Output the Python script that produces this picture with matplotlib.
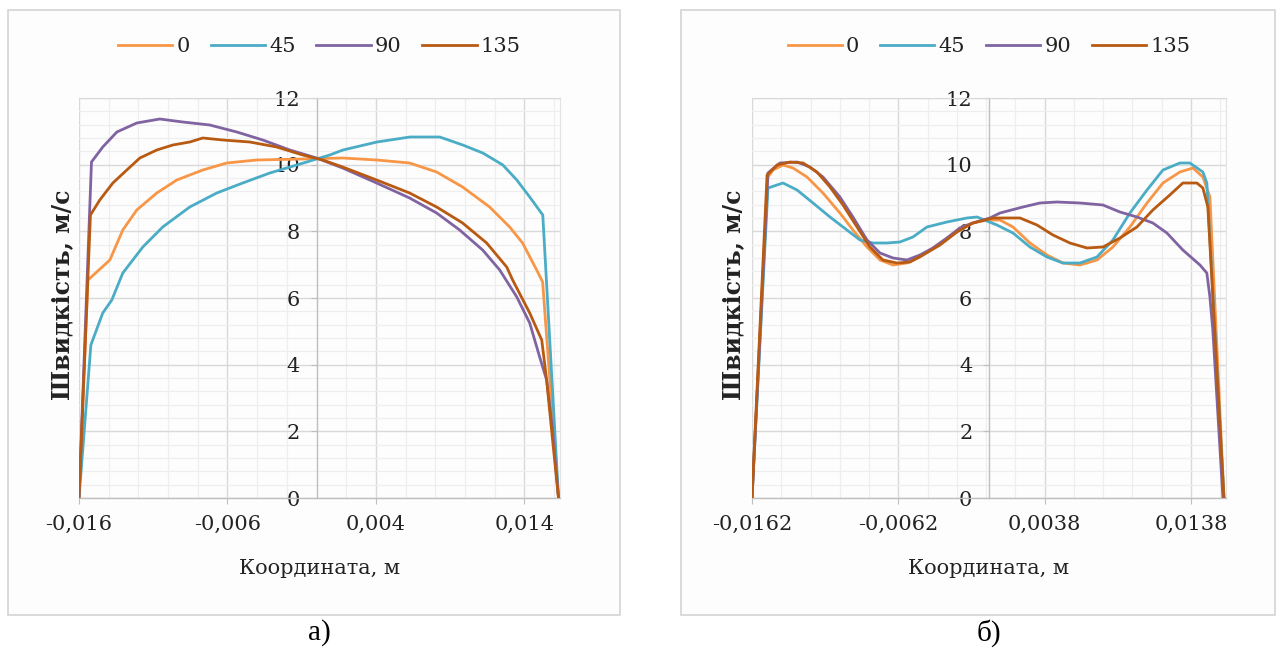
import numpy as np
import matplotlib
matplotlib.use("Agg")
import matplotlib.pyplot as plt
from matplotlib.patches import Rectangle
from matplotlib.ticker import FixedLocator, FixedFormatter

plt.rcParams['font.family'] = ['DejaVu Serif', 'Liberation Serif']

series_names = ['0', '45', '90', '135']
colors = ['#f79646', '#4bacc6', '#8064a2', '#b85a12']

# ---- панель а) ----
a_x0 = [-0.016, -0.0154, -0.01392, -0.01305, -0.01211, -0.01076, -0.00941, -0.00766, -0.00605,
        -0.00403, -0.00093, 0.00176, 0.00405, 0.00627, 0.00809, 0.00984, 0.01166, 0.01301,
        0.01388, 0.01483, 0.01523, 0.0163]
a_v0 = [0, 6.54, 7.14, 8.04, 8.64, 9.15, 9.54, 9.84, 10.05,
        10.14, 10.17, 10.2, 10.14, 10.05, 9.78, 9.33, 8.73, 8.13,
        7.65, 6.84, 6.48, 0]

a_x45 = [-0.016, -0.0152, -0.0144, -0.01379, -0.01305, -0.0117, -0.01036, -0.00854, -0.00672,
         -0.00497, -0.00315, -0.00133, 0.00089, 0.00178, 0.00407, 0.00629, 0.0083, 0.00985,
         0.0112, 0.01255, 0.01349, 0.01436, 0.01524, 0.0163]
a_v45 = [0, 4.59, 5.55, 5.94, 6.75, 7.53, 8.13, 8.73, 9.15,
         9.45, 9.75, 9.99, 10.29, 10.44, 10.68, 10.83, 10.83, 10.59,
         10.35, 9.99, 9.54, 9.03, 8.49, 0]

a_x90 = [-0.016, -0.01516, -0.0144, -0.01345, -0.01211, -0.01056, -0.00901, -0.00719, -0.00537,
         -0.00362, -0.0018, 0.0, 0.00176, 0.00405, 0.00627, 0.00809, 0.00964, 0.01119,
         0.01234, 0.01349, 0.01436, 0.01503, 0.0155, 0.0159, 0.0163]
a_v90 = [0, 10.08, 10.53, 10.98, 11.25, 11.37, 11.28, 11.19, 10.98,
         10.74, 10.44, 10.2, 9.9, 9.45, 9.0, 8.55, 8.04, 7.44,
         6.84, 6.03, 5.25, 4.23, 3.54, 2.04, 0]

a_x135 = [-0.016, -0.01523, -0.0146, -0.01372, -0.01278, -0.0119, -0.01076, -0.00968, -0.00854,
          -0.00766, -0.00632, -0.0045, -0.00268, -0.00093, 0.00042, 0.00176, 0.00405, 0.00627,
          0.00809, 0.00984, 0.01146, 0.01281, 0.01321, 0.01436, 0.01517, 0.0155, 0.0159, 0.0163]
a_v135 = [0, 8.49, 8.94, 9.45, 9.84, 10.2, 10.44, 10.59, 10.68,
          10.8, 10.74, 10.68, 10.53, 10.29, 10.14, 9.93, 9.54, 9.15,
          8.73, 8.25, 7.65, 6.93, 6.54, 5.55, 4.74, 3.54, 1.74, 0]

# ---- панель б) ----
b_x0 = [-0.0162, -0.01511, -0.01476, -0.01408, -0.0134, -0.01244, -0.01135, -0.01019, -0.0093,
        -0.00834, -0.00745, -0.00656, -0.00561, -0.00472, -0.00383, -0.00287, -0.00199, -0.0011,
        -0.00014, 0.00075, 0.00164, 0.0028, 0.00396, 0.00505, 0.00622, 0.00738, 0.00847,
        0.00963, 0.0108, 0.01189, 0.01305, 0.01394, 0.01462, 0.0151, 0.01606]
b_v0 = [0, 9.63, 9.84, 9.99, 9.9, 9.63, 9.15, 8.55, 8.04,
        7.53, 7.14, 6.99, 7.05, 7.23, 7.5, 7.8, 8.1, 8.25,
        8.34, 8.34, 8.13, 7.65, 7.29, 7.05, 6.99, 7.14, 7.53,
        8.13, 8.85, 9.45, 9.78, 9.9, 9.63, 9.03, 0]

b_x45 = [-0.0162, -0.01511, -0.01408, -0.01312, -0.01203, -0.01087, -0.00971, -0.00882, -0.00793,
         -0.00697, -0.00609, -0.0052, -0.00424, -0.00287, -0.00151, -0.00082, 0.00054, 0.00164,
         0.0028, 0.00396, 0.00505, 0.00622, 0.00738, 0.00847, 0.00963, 0.0108, 0.01189,
         0.01305, 0.01373, 0.01462, 0.01489, 0.01606]
b_v45 = [0, 9.3, 9.45, 9.24, 8.85, 8.43, 8.04, 7.74, 7.65,
         7.65, 7.68, 7.83, 8.13, 8.28, 8.4, 8.43, 8.19, 7.95,
         7.53, 7.23, 7.05, 7.05, 7.23, 7.74, 8.55, 9.24, 9.84,
         10.05, 10.05, 9.78, 9.45, 0]

b_x90 = [-0.0162, -0.01511, -0.01429, -0.01312, -0.01224, -0.01135, -0.01019, -0.0093, -0.00834,
         -0.00745, -0.00656, -0.00561, -0.00472, -0.00383, -0.00287, -0.00199, -0.0011, 0.00006,
         0.00075, 0.00232, 0.00348, 0.00464, 0.00622, 0.00779, 0.00895, 0.01011, 0.0112,
         0.01216, 0.01325, 0.01442, 0.01489, 0.0151, 0.0153, 0.01599]
b_v90 = [0, 9.75, 10.05, 10.08, 9.93, 9.63, 9.03, 8.43, 7.74,
         7.35, 7.2, 7.14, 7.29, 7.5, 7.8, 8.1, 8.25, 8.4,
         8.55, 8.73, 8.85, 8.88, 8.85, 8.79, 8.58, 8.43, 8.25,
         7.95, 7.44, 6.99, 6.75, 6.03, 5.04, 0]

b_x135 = [-0.0162, -0.01517, -0.01449, -0.0136, -0.01271, -0.01176, -0.01087, -0.00998, -0.00902,
          -0.00814, -0.00725, -0.00629, -0.0054, -0.00451, -0.00335, -0.00219, -0.0011, 0.00027,
          0.00212, 0.00328, 0.00437, 0.00553, 0.0067, 0.00779, 0.00895, 0.01011, 0.0112,
          0.01236, 0.01325, 0.01421, 0.01462, 0.01496, 0.01606]
b_v135 = [0, 9.69, 9.99, 10.08, 10.05, 9.78, 9.33, 8.79, 8.13,
          7.53, 7.14, 7.05, 7.08, 7.29, 7.59, 7.98, 8.25, 8.4,
          8.4, 8.19, 7.89, 7.65, 7.5, 7.53, 7.8, 8.13, 8.64,
          9.09, 9.45, 9.45, 9.3, 8.73, 0]

a_ticks = [-0.016, -0.006, 0.004, 0.014]
a_ticklabels = ['-0,016', '-0,006', '0,004', '0,014']
b_ticks = [-0.0162, -0.0062, 0.0038, 0.0138]
b_ticklabels = ['-0,0162', '-0,0062', '0,0038', '0,0138']
y_ticks = [0, 2, 4, 6, 8, 10, 12]

W, H = 1280, 653
fig = plt.figure(figsize=(W / 100, H / 100), dpi=100)
fig.patch.set_facecolor('white')

# рамки діаграм
for x0, x1 in [(8, 620), (681, 1275)]:
    fig.patches.append(Rectangle((x0 / W, 1 - 615 / H), (x1 - x0) / W, 605 / H,
                                 transform=fig.transFigure, facecolor='#fdfdfd',
                                 edgecolor='#d4d4d4', lw=1.2, zorder=-10))


def draw(ax, xs, vs, xmin, xmax, ticks, ticklabels):
    for x, v, c, n in zip(xs, vs, colors, series_names):
        ax.plot(x, v, color=c, lw=2.0, label=n, solid_joinstyle='round', zorder=3)
    ax.set_xlim(xmin, xmax)
    ax.set_ylim(0, 12)
    ax.set_facecolor('none')
    ax.xaxis.set_major_locator(FixedLocator(ticks))
    ax.xaxis.set_major_formatter(FixedFormatter(ticklabels))
    ax.xaxis.set_minor_locator(FixedLocator(np.arange(xmin, xmax + 1e-9, 0.002)))
    ax.yaxis.set_major_locator(FixedLocator(y_ticks))
    ax.yaxis.set_minor_locator(FixedLocator(np.arange(0, 12.01, 0.4)))
    ax.grid(which='major', color='#d9d9d9', lw=1.0, zorder=0)
    ax.grid(which='minor', color='#eeeeee', lw=0.9, zorder=0)
    ax.set_axisbelow(True)
    ax.spines['left'].set_position(('data', 0))
    for s in ['left', 'bottom']:
        ax.spines[s].set_color('#bfbfbf')
        ax.spines[s].set_linewidth(1.0)
    ax.spines['top'].set_color('#d9d9d9')
    ax.spines['right'].set_color('#e3e3e3')
    ax.tick_params(which='major', length=4, color='#bfbfbf', labelsize=15,
                   labelcolor='#222222')
    ax.tick_params(axis='x', which='major', pad=8)
    ax.tick_params(axis='y', which='major', pad=8)
    ax.tick_params(which='minor', length=0)


panels = [
    (79, 560, [a_x0, a_x45, a_x90, a_x135], [a_v0, a_v45, a_v90, a_v135],
     -0.016, 0.0164, a_ticks, a_ticklabels, 62, 'а)'),
    (752, 1226, [b_x0, b_x45, b_x90, b_x135], [b_v0, b_v45, b_v90, b_v135],
     -0.0162, 0.0162, b_ticks, b_ticklabels, 733, 'б)'),
]

for left, right, xs, vs, xmin, xmax, ticks, tl, ylx, cap in panels:
    ax = fig.add_axes([left / W, 1 - 498 / H, (right - left) / W, 400 / H])
    draw(ax, xs, vs, xmin, xmax, ticks, tl)
    cx = (left + right) / 2 / W
    ax.legend(loc='center', bbox_to_anchor=(cx, 1 - 47 / H), bbox_transform=fig.transFigure,
              ncol=4, frameon=False, fontsize=15, handlelength=2.6, handletextpad=0.2,
              columnspacing=1.0, labelcolor='#222222')
    fig.text(cx, 1 - 568 / H, 'Координата, м', ha='center', va='center', fontsize=15,
             color='#222222')
    fig.text(ylx / W, 1 - 295 / H, 'Швидкість, м/с', ha='center', va='center', fontsize=17,
             rotation=90, fontweight='bold', color='#222222')
    fig.text(cx, 1 - 633 / H, cap, ha='center', va='center', fontsize=21, color='black',
             family=['Liberation Serif', 'DejaVu Serif'])

fig.savefig('out.png', dpi=100)
